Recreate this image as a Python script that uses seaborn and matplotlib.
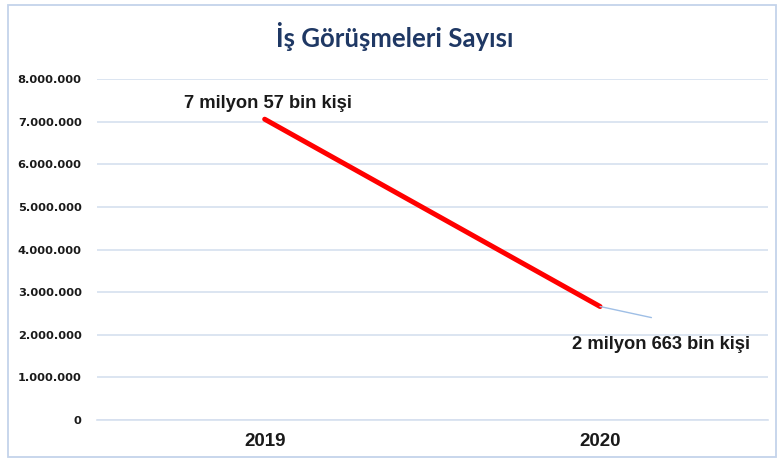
import pandas as pd
import seaborn as sns
import matplotlib.pyplot as plt
from matplotlib.patches import Rectangle
from matplotlib.ticker import FuncFormatter, FixedLocator

years = ["2019", "2020"]
interviews = [7057000, 2663000]
point_labels = ["7 milyon 57 bin kişi", "2 milyon 663 bin kişi"]
y_ticks = [0, 1000000, 2000000, 3000000, 4000000, 5000000, 6000000, 7000000, 8000000]

df = pd.DataFrame({"year": years, "count": interviews})

sns.set_theme(style="white")
plt.rcParams["font.family"] = ["Liberation Sans", "DejaVu Sans"]

fig = plt.figure(figsize=(7.81, 4.61), dpi=100)
ax = fig.add_axes([0.1242, 0.0889, 0.8588, 0.7397])

# outer chart border
fig.patches.append(Rectangle((8 / 781, 4 / 461), 768 / 781, 452 / 461, transform=fig.transFigure,
                             fill=False, edgecolor="#c4d3ea", lw=1.3))

sns.lineplot(data=df, x="year", y="count", ax=ax, color="#ff0000", lw=3.6, sort=False)

grid_col = "#d6e0ef"
ax.set_xlim(-0.5, 1.5)
ax.set_ylim(0, 8000000)
ax.yaxis.set_major_locator(FixedLocator(y_ticks))
ax.yaxis.set_major_formatter(FuncFormatter(lambda v, p: f"{int(v):,}".replace(",", ".")))
ax.grid(axis="y", color=grid_col, lw=1.2)
ax.set_axisbelow(True)
for s in ["top", "right", "left"]:
    ax.spines[s].set_visible(False)
ax.spines["bottom"].set_color(grid_col)
ax.spines["bottom"].set_linewidth(1.2)

ax.set_xticks([0, 1])
ax.set_xticklabels(years, fontsize=13.5, fontweight="bold", color="#1a1a1a")
ax.set_xticks([-0.5, 0.5, 1.5], minor=True)
ax.tick_params(axis="x", which="major", length=0, pad=9)
ax.tick_params(axis="x", which="minor", length=5, color=grid_col, width=1.2, direction="out")
ax.tick_params(axis="y", length=0, pad=11, labelsize=8.2)
for t in ax.get_yticklabels():
    t.set_fontweight("bold")
    t.set_color("#1a1a1a")
    t.set_family("DejaVu Sans")
ax.set_xlabel("")
ax.set_ylabel("")

# data labels
ax.annotate(point_labels[0], xy=(0, interviews[0]), xytext=(2, 5), textcoords="offset points",
            ha="center", va="bottom", fontsize=13.2, fontweight="bold", color="#1a1a1a")
ax.annotate(point_labels[1], xy=(1, interviews[1]), xytext=(44, -27), textcoords="offset points",
            ha="center", va="center", fontsize=13.2, fontweight="bold", color="#1a1a1a",
            arrowprops=dict(arrowstyle="-", color="#9fbfe6", lw=1, shrinkA=50, shrinkB=0,
                            relpos=(0.89, 1.05)))

fig.text(0.506, 0.898, "İş Görüşmeleri Sayısı", ha="center", va="baseline", fontsize=18.5,
         color="#1f3864", fontweight="bold", family=["Lato", "DejaVu Sans"])

fig.savefig("out.png", dpi=100)
